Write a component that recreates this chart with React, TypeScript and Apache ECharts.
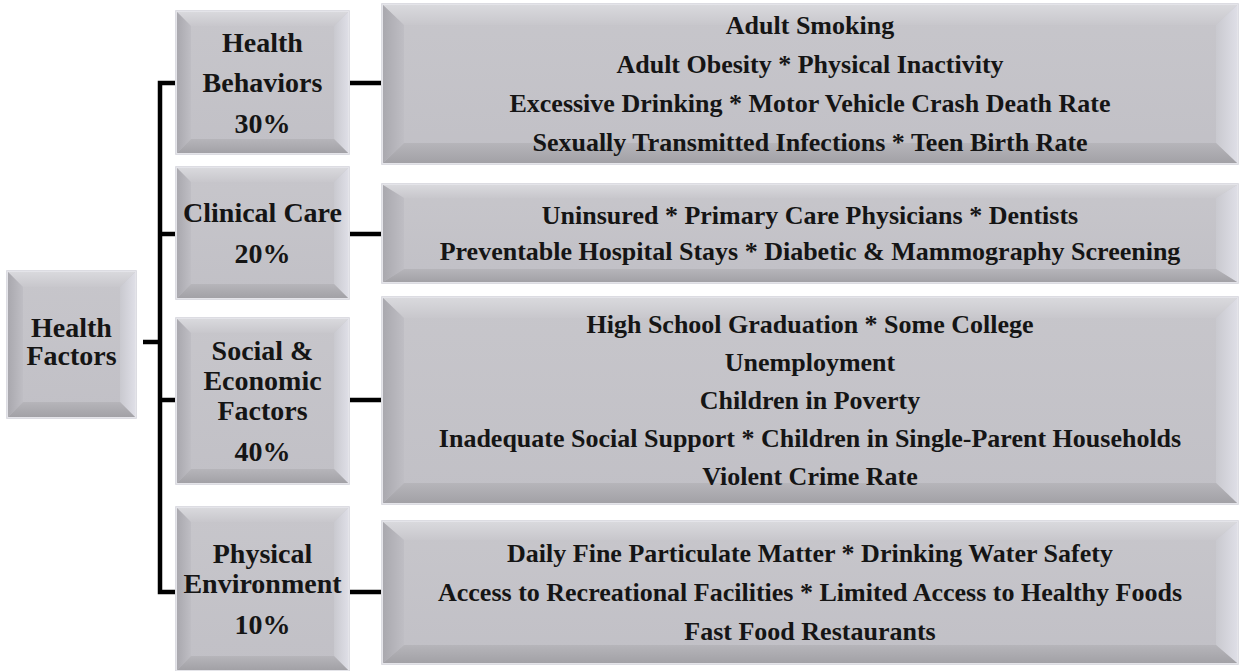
import React, { useEffect, useRef } from "react";
import * as echarts from "echarts";

// ---- data ----
const rootLabelLines: string[] = ["Health", "Factors"];
const factorLabelLines: string[][] = [
  ["Health", "Behaviors"],
  ["Clinical Care"],
  ["Social &", "Economic", "Factors"],
  ["Physical", "Environment"],
];
const factorWeights: number[] = [30, 20, 40, 10];
const healthBehaviorMeasures: string[] = [
  "Adult Smoking",
  "Adult Obesity * Physical Inactivity",
  "Excessive Drinking * Motor Vehicle Crash Death Rate",
  "Sexually Transmitted Infections * Teen Birth Rate",
];
const clinicalCareMeasures: string[] = [
  "Uninsured * Primary Care Physicians * Dentists",
  "Preventable Hospital Stays * Diabetic & Mammography Screening",
];
const socialEconomicMeasures: string[] = [
  "High School Graduation * Some College",
  "Unemployment",
  "Children in Poverty",
  "Inadequate Social Support * Children in Single-Parent Households",
  "Violent Crime Rate",
];
const physicalEnvironmentMeasures: string[] = [
  "Daily Fine Particulate Matter * Drinking Water Safety",
  "Access to Recreational Facilities * Limited Access to Healthy Foods",
  "Fast Food Restaurants",
];
const measureGroups: string[][] = [
  healthBehaviorMeasures,
  clinicalCareMeasures,
  socialEconomicMeasures,
  physicalEnvironmentMeasures,
];

// ---- layout (positions / styles) ----
const FONT = "'Liberation Serif', 'Times New Roman', serif";
const TEXT_COLOR = "#151515";
const rootBox = { x: 8, y: 272, w: 127, h: 145, cy: 341 };
const midX = 177;
const midW = 171;
const midBoxes = [
  { y: 12, h: 141 },
  { y: 168, h: 130 },
  { y: 319, h: 164 },
  { y: 508, h: 162 },
];
const midWrapGap = [40, 30, 30, 30];
const midPctGap = 41;
const rightX = 383;
const rightW = 854;
const rightBoxes = [
  { y: 5, h: 158 },
  { y: 185, h: 97 },
  { y: 298, h: 205 },
  { y: 522, h: 141 },
];
const rightGap = [39, 36, 38, 39];
const tickYs = [83, 234, 400, 592];
const spineX = 160;

function lg(x0: number, y0: number, x1: number, y1: number, c0: string, c1: string) {
  return new echarts.graphic.LinearGradient(x0, y0, x1, y1, [
    { offset: 0, color: c0 },
    { offset: 1, color: c1 },
  ]);
}

function bevelBox(x: number, y: number, w: number, h: number, dx: number, dy: number) {
  const els: any[] = [];
  els.push({
    type: "rect",
    shape: { x: x - 1.5, y: y - 1.5, width: w + 3, height: h + 3 },
    style: { fill: "#e4e4e9", stroke: "#dcdce2", lineWidth: 1 },
  });
  els.push({
    type: "rect",
    shape: { x, y, width: w, height: h },
    style: { fill: lg(0, 0, 0, 1, "#c7c6cb", "#c1c0c6") },
  });
  // top
  els.push({
    type: "polygon",
    shape: { points: [[x, y], [x + w, y], [x + w - dx, y + dy], [x + dx, y + dy]] },
    style: { fill: lg(0, 0, 0, 1, "#d9d9dd", "#c8c7cc") },
  });
  // left
  els.push({
    type: "polygon",
    shape: { points: [[x, y], [x + dx, y + dy], [x + dx, y + h - dy], [x, y + h]] },
    style: { fill: lg(0, 0, 1, 0, "#a9a8ae", "#bfbec4") },
  });
  // right
  els.push({
    type: "polygon",
    shape: { points: [[x + w, y], [x + w, y + h], [x + w - dx, y + h - dy], [x + w - dx, y + dy]] },
    style: { fill: lg(0, 0, 1, 0, "#c9c9cf", "#dedee6") },
  });
  // bottom
  els.push({
    type: "polygon",
    shape: { points: [[x, y + h], [x + w, y + h], [x + w - dx, y + h - dy], [x + dx, y + h - dy]] },
    style: { fill: lg(0, 0, 0, 1, "#b6b5ba", "#a2a1a6") },
  });
  return els;
}

function txt(s: string, cx: number, cy: number, size: number) {
  return {
    type: "text",
    x: cx,
    y: cy,
    style: {
      text: s,
      fill: TEXT_COLOR,
      font: `bold ${size}px ${FONT}`,
      align: "center",
      verticalAlign: "middle",
    },
  };
}

function hline(x1: number, x2: number, y: number) {
  return {
    type: "line",
    shape: { x1, y1: y, x2, y2: y },
    style: { stroke: "#000", lineWidth: 4.5 },
  };
}

function buildGraphics() {
  const els: any[] = [];
  // connectors
  els.push({
    type: "polyline",
    shape: {
      points: [
        [175, tickYs[0]],
        [spineX, tickYs[0]],
        [spineX, tickYs[3]],
        [175, tickYs[3]],
      ],
    },
    style: { stroke: "#000", lineWidth: 4.5, fill: "none", lineJoin: "miter" },
  });
  els.push(hline(143, spineX, 342));
  tickYs.forEach((ty, i) => {
    if (i === 1 || i === 2) els.push(hline(spineX, 175, ty));
    els.push(hline(349, 382, ty));
  });

  // root box
  els.push(...bevelBox(rootBox.x, rootBox.y, rootBox.w, rootBox.h, 15, 15));
  const rcx = rootBox.x + rootBox.w / 2;
  rootLabelLines.forEach((l, i) => {
    els.push(txt(l, rcx, rootBox.cy - 14 + i * 28, 28));
  });

  // mid boxes
  midBoxes.forEach((b, i) => {
    els.push(...bevelBox(midX, b.y, midW, b.h, 14, 14));
    const lines = [...factorLabelLines[i], `${factorWeights[i]}%`];
    const gaps: number[] = [];
    for (let k = 0; k < lines.length - 1; k++) {
      gaps.push(k === lines.length - 2 ? midPctGap : midWrapGap[i]);
    }
    const span = gaps.reduce((a, c) => a + c, 0);
    let yy = b.y + b.h / 2 - span / 2;
    const cx = midX + midW / 2;
    lines.forEach((l, k) => {
      els.push(txt(l, cx, yy, 28));
      if (k < gaps.length) yy += gaps[k];
    });
  });

  // right boxes
  rightBoxes.forEach((b, i) => {
    const dy = Math.min(20, Math.round(b.h * 0.13));
    els.push(...bevelBox(rightX, b.y, rightW, b.h, 21, dy));
    const lines = measureGroups[i];
    const g = rightGap[i];
    const start = b.y + b.h / 2 - ((lines.length - 1) * g) / 2;
    const cx = rightX + rightW / 2;
    lines.forEach((l, k) => {
      els.push(txt(l, cx, start + k * g, 26));
    });
  });
  return els;
}

export default function App() {
  const ref = useRef<HTMLDivElement>(null);
  useEffect(() => {
    if (!ref.current) return;
    const chart = echarts.init(ref.current, undefined, { renderer: "svg" });
    chart.setOption({
      animation: false,
      backgroundColor: "#ffffff",
      graphic: { elements: buildGraphics() },
    });
    return () => chart.dispose();
  }, []);
  return (
    <div
      ref={ref}
      style={{ position: "fixed", left: 0, top: 0, width: 1239, height: 671, background: "#fff" }}
    />
  );
}
